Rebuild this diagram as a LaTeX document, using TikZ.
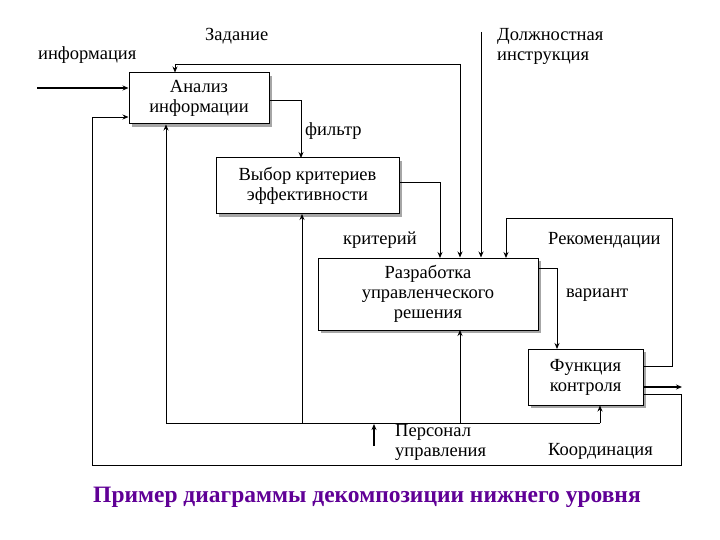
\documentclass[tikz,border=0pt]{standalone}
\usepackage{fontspec}
\setmainfont{Liberation Serif}
\usetikzlibrary{arrows.meta}
\definecolor{cap}{RGB}{96,0,150}
\begin{document}
\begin{tikzpicture}[x=1pt,y=-1pt,
  box/.style={draw,line width=1pt,fill=white,align=center,font=\fontsize{18.5}{20}\selectfont,inner sep=0pt},
  lbl/.style={font=\fontsize{18.5}{20}\selectfont,align=left,inner sep=0pt,anchor=west},
  ln/.style={line width=0.9pt},
  ar/.style={ln,-{Stealth[length=6pt,width=5pt]}},
  thk/.style={line width=1.8pt,-{Stealth[length=6pt,width=5pt]}}]
\useasboundingbox (0,0) rectangle (720,540);
\foreach \a/\b/\c/\d in {129/73/269/124,216/158/399/214,318/258/538/330,528/349/643/405}
  \fill[gray!70] (\a+3,\b+3) rectangle (\c+3,\d+3);
\node[box,minimum width=140pt,minimum height=51pt] (A) at (199,98.5) {Анализ\\информации};
\node[box,minimum width=183pt,minimum height=56pt] (B) at (307.5,186) {Выбор критериев\\эффективности};
\node[box,minimum width=220pt,minimum height=72pt] (C) at (428,294) {Разработка\\управленческого\\решения};
\node[box,minimum width=115pt,minimum height=56pt] (D) at (585.5,377) {Функция\\контроля};
% labels
\node[lbl] (l1) at (205,36) {Задание};
\node[lbl] (l2) at (38,55) {информация};
\node[lbl] (l3) at (497,46) {Должностная\\инструкция};
\node[lbl] (l4) at (305,131) {фильтр};
\node[lbl] (l5) at (343,240) {критерий};
\node[lbl] (l6) at (548,240) {Рекомендации};
\node[lbl] (l7) at (566,295) {вариант};
\node[lbl] (l8) at (395,442) {Персонал\\управления};
\node[lbl] (l9) at (548,451) {Координация};
\node[font=\fontsize{23.5}{25}\selectfont\bfseries,text=cap] (cp) at (367,497) {Пример диаграммы декомпозиции нижнего уровня};
% coordinates
\coordinate (in) at (37,88);
\coordinate (z1) at (460,64);
\coordinate (z2) at (175,64);
\coordinate (di) at (481,32);
\coordinate (bus1) at (166,423);
\coordinate (bus2) at (600,423);
\coordinate (pers) at (374,446);
\coordinate (out) at (682,387);
% connectors
\draw[thk] (in) -- (in -| A.west);
\draw[ar] (z1) -- (z1 |- C.north);
\draw[ar] (z1) -- (z2) -- (z2 |- A.north);
\draw[ar] (di) -- (di |- C.north);
\draw[ar] (A.east |- 0,100) -- (301,100) -- (301,158);
\draw[ar] (B.east |- 0,182) -- (440,182) -- (440,258);
\draw[ar] (C.east |- 0,268) -- (557,268) -- (557,349);
\draw[ar] (D.east |- 0,366) -- (672,366) -- (672,218) -- (506,218) -- (506,258);
\draw[thk] (D.east |- out) -- (out);
\draw[ar] (D.east |- 0,394) -- (681,394) -- (681,465) -- (92,465) -- (92,117) -- (A.west |- 0,117);
\draw[ln] (bus1) -- (bus2);
\draw[ar] (bus1) -- (bus1 |- A.south);
\draw[ar] (302,423) -- (302,214);
\draw[ar] (460,423) -- (460,330);
\draw[ar] (bus2) -- (bus2 |- D.south);
\draw[thk] (pers) -- (374,424);
\end{tikzpicture}
\end{document}
